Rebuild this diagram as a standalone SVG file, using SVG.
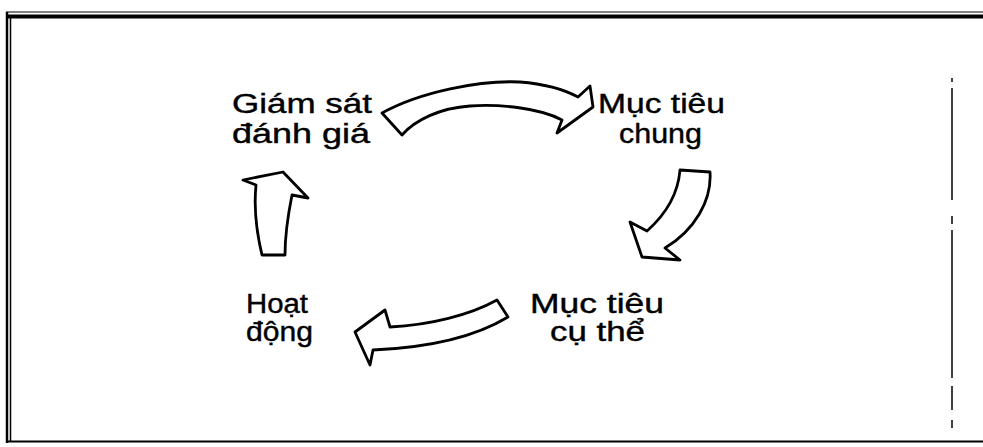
<svg xmlns="http://www.w3.org/2000/svg" width="983" height="447" viewBox="0 0 983 447">
<style>
.frame{stroke:#000;fill:none}
.arrow{fill:#fff;stroke:#000;stroke-width:2.8;stroke-linejoin:round}
.lbl{font-family:"Liberation Sans",Arial,sans-serif;font-size:27px;fill:#000;stroke:#000;stroke-width:0.4}
</style>
<rect width="983" height="447" fill="#fff"/>
<g id="frame">
<line class="frame" x1="6" y1="12" x2="983" y2="12" stroke-width="1"/>
<line class="frame" x1="6" y1="16.5" x2="983" y2="16.5" stroke-width="4"/>
<line class="frame" x1="7" y1="12" x2="7" y2="443" stroke-width="2.5"/>
<line class="frame" x1="10.5" y1="16" x2="10.5" y2="441" stroke-width="1.5"/>
<line class="frame" x1="7" y1="441.5" x2="983" y2="441.5" stroke-width="2"/>
<path class="frame" stroke-width="1.5" d="M952,78 V82 M952,88 V200 M952,216 V224 M952,230 V378 M952,386 V410 M952,420 V428"/>
</g>
<g id="n1"><text class="lbl" x="232" y="113" textLength="140" lengthAdjust="spacingAndGlyphs">Giám sát</text><text class="lbl" x="232" y="143" textLength="138" lengthAdjust="spacingAndGlyphs">đánh giá</text></g>
<g id="n2"><text class="lbl" x="598" y="113" textLength="127" lengthAdjust="spacingAndGlyphs">Mục tiêu</text><text class="lbl" x="619" y="143" textLength="83" lengthAdjust="spacingAndGlyphs">chung</text></g>
<g id="n3"><text class="lbl" x="530" y="313" textLength="134" lengthAdjust="spacingAndGlyphs">Mục tiêu</text><text class="lbl" x="550" y="341" textLength="95" lengthAdjust="spacingAndGlyphs">cụ thể</text></g>
<g id="n4"><text class="lbl" x="246" y="313" textLength="62" lengthAdjust="spacingAndGlyphs">Hoạt</text><text class="lbl" x="246" y="341" textLength="67" lengthAdjust="spacingAndGlyphs">động</text></g>
<g id="connectors">
<path class="arrow" d="M382,113 C420,92 480,80 520,82 C545,84 565,90 578,97 L590,86 L593,107 L557,133 L562,120 C540,108 500,104 470,106 C440,108 415,120 402,135 Z"/>
<path class="arrow" d="M680,170 L710,172 C712,200 695,230 665,248 L680,260 L642,257 L630,222 L647,231 C665,215 678,195 680,170 Z"/>
<path class="arrow" d="M497,300 C470,315 430,325 390,327 L385,310 L355,332 L370,365 L373,350 C420,348 470,340 508,317 Z"/>
<path class="arrow" d="M262,255 C256,230 254,205 256,185 L243,180 L283,172 L308,198 L292,195 C288,215 285,235 285,255 Z"/>
</g>
</svg>
